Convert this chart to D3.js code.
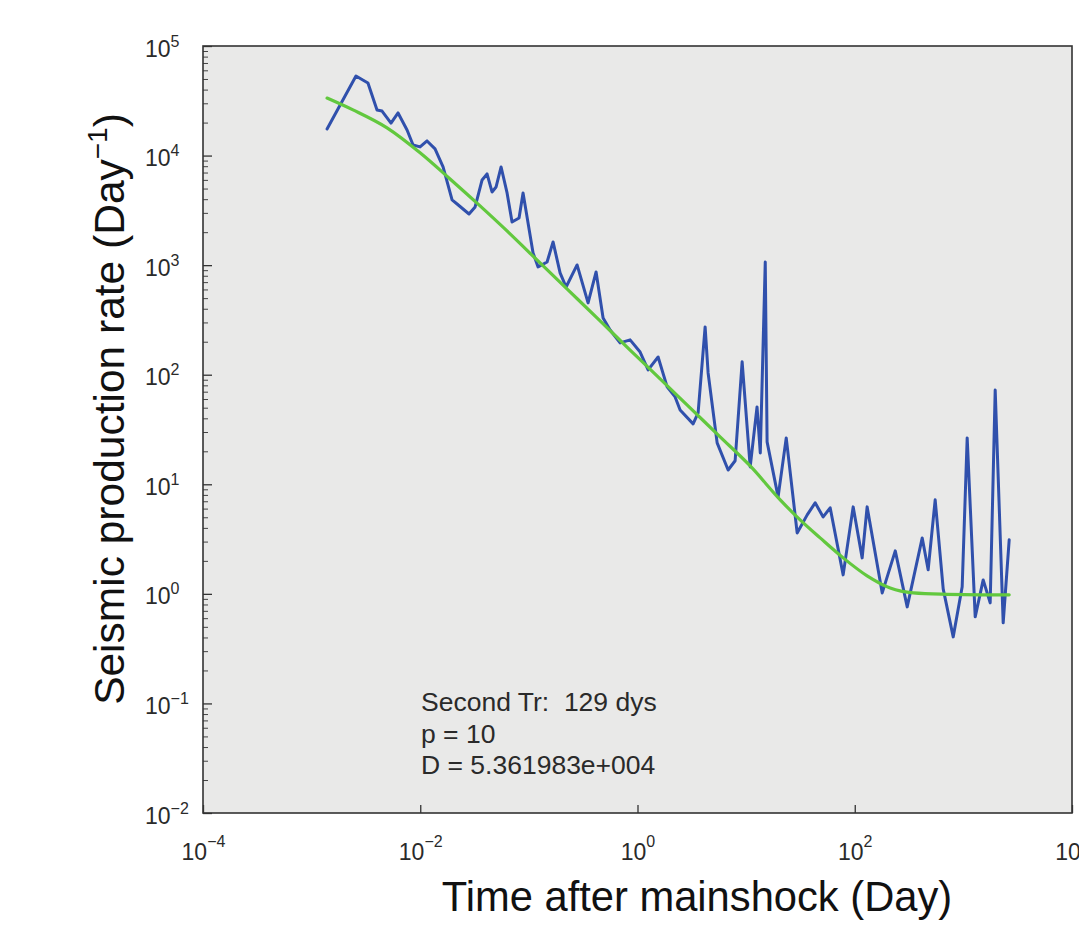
<!DOCTYPE html>
<html><head><meta charset="utf-8">
<script src="https://cdn.jsdelivr.net/npm/d3@7"></script>
<style>
html,body{margin:0;padding:0;background:#fff;}
svg{display:block;font-family:"Liberation Sans",Arial,Helvetica,sans-serif;}
</style></head>
<body>
<svg id="chart" width="1079" height="931"></svg>
<script>
// ---- data ----
const blueTime = [0.001387,0.00256,0.0033,0.004,0.00445,0.00538,0.00625,0.00756,0.00859,0.00996,
  0.01155,0.01368,0.01622,0.01963,0.02183,0.02812,0.032,0.0371,0.0412,0.0458,
  0.0499,0.0555,0.063,0.07,0.0812,0.0884,0.1093,0.1215,0.1471,0.167,
  0.1938,0.2201,0.2779,0.3508,0.4157,0.4823,0.5595,0.6915,0.855,1.057,
  1.252,1.548,1.874,2.219,2.468,3.251,3.614,4.193,4.468,5.41,
  6.83,7.92,9.19,10.9,12.6,13.5,15.0,15.6,19.7,23.4,
  29.5,36.5,43.2,51.2,59.4,78.2,96.7,117,130,179,
  236,304,418,474,550,652,806,975,1084,1285,
  1522,1765,1963,2326,2641];
const blueRate = [17500,53200,45900,26100,25500,19800,24500,17100,12500,12000,
  13600,11500,7870,3935,3615,2930,3396,5990,6795,4655,
  5170,7870,4560,2478,2697,4560,1292,963,1069,1629,
  849,632,1004,452,867,330,256,195,208,161,
  110.7,145,77.4,62.7,47.7,35.6,44.8,273,103.8,23.9,
  13.5,16.4,131,14.4,50.8,19.3,1069,24.4,7.67,26.5,
  3.6,5.26,6.77,5.04,6.1,1.49,6.22,2.13,6.22,1.02,
  2.47,0.761,3.24,1.66,7.21,1.11,0.405,1.16,26.5,0.617,
  1.34,0.828,72.6,0.544,3.11];
const greenTime = [0.001387,0.002405,0.004945,0.00996,0.01881,0.03553,0.06712,0.1268,0.2395,0.4525,
  0.855,1.615,3.05,5.76,10.9,20.6,31.4,48.0,78.2,130,212,345,709,1428,2641];
const greenRate = [33500,26100,17900,10600,6120,3470,1930,1047,570,310,
  168,91.6,49.8,27.1,14.7,7.21,4.73,3.24,2.13,1.46,1.13,1.02,0.99,0.98,0.98];
const xTickExp = [-4,-2,0,2,4];
const yTickExp = [-2,-1,0,1,2,3,4,5];
const annotation = ["Second Tr:  129 dys","p = 10","D = 5.361983e+004"];
const xTitle = "Time after mainshock (Day)";
const yTitle = "Seismic production rate (Day";
const yTitleSup = "\u22121";

// ---- layout ----
const L = 203, R = 1072, T = 46, B = 813;
const svg = d3.select("#chart");
const x = d3.scaleLog().domain([1e-4,1e4]).range([L,R]);
const y = d3.scaleLog().domain([1e-2,1e5]).range([B,T]);

svg.append("rect").attr("x",L).attr("y",T).attr("width",R-L).attr("height",B-T)
  .attr("fill","#e9e9e8");

const expStr = e => (e<0 ? "\u2212"+(-e) : String(e));

// minor ticks on y
const yMinor = [];
for (let e=-2; e<5; e++) for (let k=2;k<=9;k++) yMinor.push(k*Math.pow(10,e));
svg.append("g").attr("transform",`translate(${L},0)`)
  .call(d3.axisLeft(y).tickValues(yMinor).tickSize(-5).tickFormat(""))
  .call(g=>g.select(".domain").remove())
  .call(g=>g.selectAll("line").attr("stroke","#444").attr("stroke-width",1));

// major y
const gy = svg.append("g").attr("transform",`translate(${L},0)`)
  .call(d3.axisLeft(y).tickValues(yTickExp.map(e=>Math.pow(10,e))).tickSize(-9).tickFormat(""));
gy.select(".domain").remove();
gy.selectAll("line").attr("stroke","#333").attr("stroke-width",1.3);
gy.selectAll(".tick").each(function(d){
  const t = d3.select(this).select("text");
  t.attr("x",-58).attr("y",10).attr("dy",null).attr("text-anchor","start")
   .attr("fill","#2a2a2a").attr("font-size",23).attr("font-family","Liberation Sans, Arial, sans-serif");
  t.text("10");
  t.append("tspan").attr("dy",-10).attr("font-size",16).text(expStr(Math.round(Math.log10(d))));
});

// major x
const gx = svg.append("g").attr("transform",`translate(0,${B})`)
  .call(d3.axisBottom(x).tickValues(xTickExp.map(e=>Math.pow(10,e))).tickSize(-8).tickFormat(""));
gx.select(".domain").remove();
gx.selectAll("line").attr("stroke","#333").attr("stroke-width",1.3);
gx.selectAll(".tick").each(function(d){
  const t = d3.select(this).select("text");
  t.attr("y",47).attr("dy",null).attr("text-anchor","middle")
   .attr("fill","#2a2a2a").attr("font-size",23).attr("font-family","Liberation Sans, Arial, sans-serif");
  t.text("10");
  t.append("tspan").attr("dy",-13).attr("font-size",16).text(expStr(Math.round(Math.log10(d))));
});

// frame
svg.append("rect").attr("x",L).attr("y",T).attr("width",R-L).attr("height",B-T)
  .attr("fill","none").attr("stroke","#333").attr("stroke-width",1.6);

// lines
const blue = blueTime.map((t,i)=>[t,blueRate[i]]);
const green = greenTime.map((t,i)=>[t,greenRate[i]]);
svg.append("path").datum(blue)
  .attr("d", d3.line().x(d=>x(d[0])).y(d=>y(d[1])))
  .attr("fill","none").attr("stroke","#3050ac").attr("stroke-width",3)
  .attr("stroke-linejoin","round").attr("stroke-linecap","round");
svg.append("path").datum(green)
  .attr("d", d3.line().curve(d3.curveMonotoneX).x(d=>x(d[0])).y(d=>y(d[1])))
  .attr("fill","none").attr("stroke","#62c83e").attr("stroke-width",3.2)
  .attr("stroke-linecap","round");

// annotation
const ann = svg.append("g").attr("font-size",26.5).attr("fill","#2a2a2a");
annotation.forEach((s,i)=>{
  ann.append("text").attr("x",421).attr("y",711+i*31.5).style("white-space","pre").text(s);
});

// titles
svg.append("text").attr("x",697).attr("y",911).attr("text-anchor","middle")
  .attr("font-size",41.7).attr("fill","#111").text(xTitle);
const yt = svg.append("text").attr("transform","translate(124,409) rotate(-90)")
  .attr("text-anchor","middle").attr("font-size",42.5).attr("fill","#111");
yt.append("tspan").text(yTitle);
yt.append("tspan").attr("dy",-17).attr("font-size",28).text(yTitleSup);
yt.append("tspan").attr("dy",17).text(")");
</script>
</body></html>
